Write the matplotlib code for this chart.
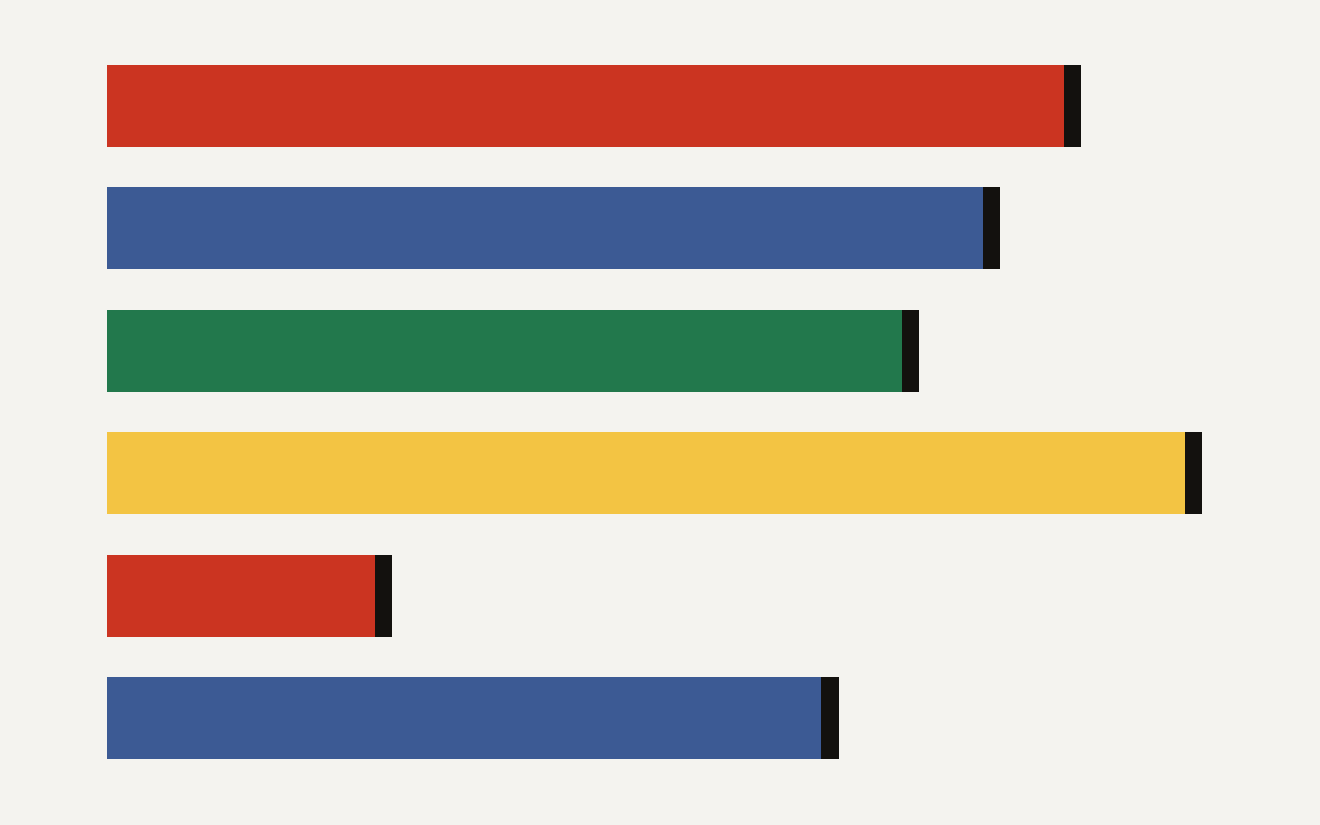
import matplotlib
matplotlib.use("Agg")
import matplotlib.pyplot as plt

# bar lengths (axis 0..100) and colours, top to bottom
values = [86.5, 79.2, 71.9, 97.5, 24.2, 64.6]
colors = ["#cb3421", "#3c5a94", "#22784c", "#f3c443", "#cb3421", "#3c5a94"]
CAP = 1.55
BG = "#f4f3ef"

fig = plt.figure(figsize=(13.2, 8.25), dpi=100)
fig.patch.set_facecolor(BG)
ax = fig.add_axes([107 / 1320, 0.0555, 1106 / 1320, 0.8902])
ax.set_facecolor(BG)

pos = range(len(values))
ax.barh(pos, values, height=0.67, color=colors, linewidth=0)
ax.barh(pos, [CAP] * len(values), left=values, height=0.67,
        color="#13110e", linewidth=0)

ax.set_xlim(0, 100)
ax.set_ylim(len(values) - 0.5, -0.5)
ax.axis("off")

fig.savefig("out.png", dpi=100, facecolor=BG)
